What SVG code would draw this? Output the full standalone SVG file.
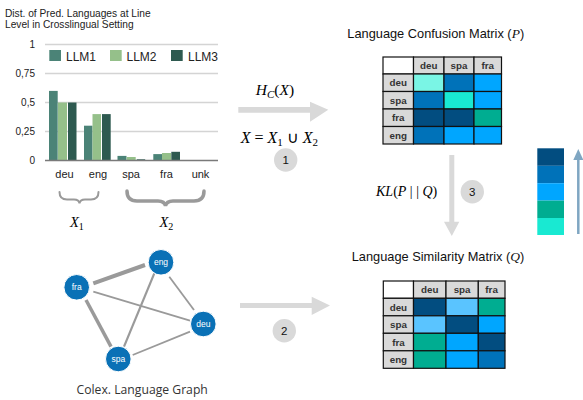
<svg xmlns="http://www.w3.org/2000/svg" width="583" height="400" viewBox="0 0 583 400">
<defs>
<style>
.sans{font-family:"Liberation Sans",Arial,sans-serif}
.math{font-family:"Liberation Serif","Times New Roman",serif;font-style:italic}
.up{font-style:normal}
.grid{stroke:#d4d4d4;stroke-width:1.5}
.l1{fill:#4b8377}.l2{fill:#95c08a}.l3{fill:#2e5a50}
.ax{font-size:10px;fill:#222;text-anchor:end}
.xl{font-size:11px;fill:#222;text-anchor:middle}
.brace{fill:none;stroke:#9a9a9a;stroke-linecap:round}
.edge{stroke:#9a9a9a;stroke-linecap:butt}
.node circle{fill:#0a71b6;stroke:#fff;stroke-width:1}
.node text{fill:#fff;font-size:8.5px;text-anchor:middle;font-family:"Liberation Sans",Arial,sans-serif}
.garrow{fill:#d9d9d9}
.step circle{fill:#d9d9d9}
.step text{font-size:11.5px;text-anchor:middle;fill:#111;font-family:"Liberation Sans",Arial,sans-serif}
.cell{stroke:#111;stroke-width:1.2}
.hd{fill:#d9d9d9}
.mt{font-size:9.8px;font-weight:bold;fill:#333;text-anchor:middle;font-family:"Liberation Sans",Arial,sans-serif}
.c1{fill:#7af5e5}.c2{fill:#0072b9}.c3{fill:#00a6ff}.c4{fill:#19e9d2}.c5{fill:#024d80}.c6{fill:#00ad91}.c7{fill:#5ac4ff}
</style>
</defs>
<rect width="583" height="400" fill="#fff"/>

<!-- Bar chart -->
<g id="chart">
<text class="sans" x="5" y="17" font-size="10.2" fill="#222">Dist. of Pred. Languages at Line</text>
<text class="sans" x="5" y="28" font-size="10.2" fill="#222">Level in Crosslingual Setting</text>
<line class="grid" x1="45" y1="44.5" x2="218" y2="44.5"/>
<line class="grid" x1="45" y1="73.5" x2="218" y2="73.5"/>
<line class="grid" x1="45" y1="102.5" x2="218" y2="102.5"/>
<line class="grid" x1="45" y1="131.5" x2="218" y2="131.5"/>
<text class="sans ax" x="35" y="48">1</text>
<text class="sans ax" x="35" y="77">0,75</text>
<text class="sans ax" x="35" y="106">0,5</text>
<text class="sans ax" x="35" y="135">0,25</text>
<text class="sans ax" x="35" y="164">0</text>
<rect class="l1" x="49.3" y="50" width="11.7" height="11"/>
<text class="sans" x="66" y="60.5" font-size="12" fill="#222">LLM1</text>
<rect class="l2" x="110" y="50" width="11.7" height="11"/>
<text class="sans" x="126.5" y="60.5" font-size="12" fill="#222">LLM2</text>
<rect class="l3" x="171" y="50" width="11.7" height="11"/>
<text class="sans" x="188" y="60.5" font-size="12" fill="#222">LLM3</text>
<rect class="l1" x="49" y="90.9" width="8.7" height="69.6"/>
<rect class="l2" x="58" y="102.5" width="9" height="58"/>
<rect class="l3" x="68" y="102.5" width="8.5" height="58"/>
<rect class="l1" x="84" y="125.7" width="8.5" height="34.8"/>
<rect class="l2" x="92.5" y="114.1" width="8.5" height="46.4"/>
<rect class="l3" x="102" y="114.1" width="8.7" height="46.4"/>
<rect class="l1" x="117.5" y="155.9" width="9" height="4.6"/>
<rect class="l2" x="126.7" y="157" width="9" height="3.5"/>
<rect class="l3" x="136.7" y="159.3" width="8.5" height="1.2"/>
<rect class="l1" x="153.3" y="154.1" width="8.7" height="6.4"/>
<rect class="l2" x="162" y="153" width="9" height="7.5"/>
<rect class="l3" x="171.3" y="151.8" width="8.7" height="8.7"/>
<line x1="45" y1="160.5" x2="218" y2="160.5" stroke="#7a7a7a" stroke-width="1.5"/>
<text class="sans xl" x="64.5" y="178">deu</text>
<text class="sans xl" x="98" y="178">eng</text>
<text class="sans xl" x="131" y="178">spa</text>
<text class="sans xl" x="166.5" y="178">fra</text>
<text class="sans xl" x="200.5" y="178">unk</text>
<path class="brace" stroke-width="2" d="M59.5,192 Q59.5,199.5 67,199.5 L74,199.5 Q79,199.5 79.5,203.5 Q80,199.5 85,199.5 L91,199.5 Q98.5,199.5 98.5,192"/>
<path class="brace" stroke-width="3.5" d="M127,191 Q127,201 137,201 L158,201 Q164.5,201 165.5,206 Q166.5,201 173,201 L194,201 Q204,201 204,191"/>
<text class="math" x="70" y="226.5" font-size="14.5">X<tspan class="up" font-size="10" dy="3">1</tspan></text>
<text class="math" x="159.5" y="226.5" font-size="14.5">X<tspan class="up" font-size="10" dy="3">2</tspan></text>
</g>

<!-- Graph connectors -->
<g id="connectors">
<line class="edge" x1="93.3" y1="283.3" x2="145" y2="265" stroke-width="4"/>
<line class="edge" x1="86" y1="300" x2="111" y2="346.7" stroke-width="3.5"/>
<line class="edge" x1="93.3" y1="291.7" x2="190" y2="320.7" stroke-width="1.8"/>
<line class="edge" x1="154.3" y1="273.3" x2="124" y2="346.7" stroke-width="2.2"/>
<line class="edge" x1="169.3" y1="276.7" x2="194" y2="310" stroke-width="1.8"/>
<line class="edge" x1="132.7" y1="355" x2="190" y2="331.7" stroke-width="1.8"/>
</g>
<g id="node-eng" class="node"><circle cx="161" cy="262.3" r="12.8"/><text x="161" y="265.2">eng</text></g>
<g id="node-fra" class="node"><circle cx="76.7" cy="287.3" r="12.8"/><text x="76.7" y="290.2">fra</text></g>
<g id="node-deu" class="node"><circle cx="203.3" cy="324" r="12.8"/><text x="203.3" y="327">deu</text></g>
<g id="node-spa" class="node"><circle cx="118.3" cy="359" r="12.8"/><text x="118.3" y="362">spa</text></g>
<text x="76.5" y="394" font-family="'Open Sans','Liberation Sans',sans-serif" font-size="12.2" fill="#333">Colex. Language Graph</text>

<!-- Step arrows -->
<g id="arrow1">
<path class="garrow" d="M238.3,107 L310,107 L310,101.7 L328.3,109.8 L310,121.7 L310,112.7 L238.3,112.7 Z"/>
<text class="math" x="255.7" y="95" font-size="15.5">H<tspan font-size="11" dy="3">C</tspan><tspan class="up" dy="-3">(</tspan>X<tspan class="up">)</tspan></text>
<text class="math" x="240.7" y="143.3" font-size="16">X<tspan class="up"> = </tspan>X<tspan class="up" font-size="11" dy="3">1</tspan><tspan class="up" dy="-3"> ∪ </tspan>X<tspan class="up" font-size="11" dy="3">2</tspan></text>
</g>
<g id="step1" class="step"><circle cx="285.7" cy="160" r="11.7"/><text x="285.7" y="164.2">1</text></g>

<g id="arrow2">
<path class="garrow" d="M240,303 L311.7,303 L311.7,296.7 L330,305.5 L311.7,315 L311.7,308 L240,308 Z"/>
</g>
<g id="step2" class="step"><circle cx="284.3" cy="330.7" r="11.7"/><text x="284.3" y="334.9">2</text></g>

<g id="arrow3">
<path class="garrow" d="M449.3,155 L454.3,155 L454.3,221.7 L459.3,221.7 L451.8,236 L444,221.7 L449.3,221.7 Z"/>
<text class="math" x="376" y="196" font-size="14">KL<tspan class="up">(</tspan>P<tspan class="up"> | | </tspan>Q<tspan class="up">)</tspan></text>
</g>
<g id="step3" class="step"><circle cx="472.3" cy="191.7" r="11.7"/><text x="472.3" y="195.9">3</text></g>

<!-- Colour scale -->
<g id="scale">
<rect class="c5" x="537.3" y="148.3" width="26.7" height="17.5"/>
<rect class="c2" x="537.3" y="165.8" width="26.7" height="17.4"/>
<rect class="c3" x="537.3" y="183.2" width="26.7" height="17.4"/>
<rect class="c6" x="537.3" y="200.6" width="26.7" height="17.4"/>
<rect class="c4" x="537.3" y="218" width="26.7" height="17"/>
<line x1="578.3" y1="158" x2="578.3" y2="234" stroke="#7fa6c2" stroke-width="2.5"/>
<path d="M573.3,160 L578.3,149 L583.3,160 Z" fill="#7fa6c2"/>
</g>

<!-- Matrix P -->
<g id="matrixP">
<text class="sans" x="347.3" y="38.3" font-size="12.8" fill="#111">Language Confusion Matrix (<tspan class="math" font-size="13.5">P</tspan>)</text>
<rect class="cell" x="383" y="57" width="30.5" height="17" fill="#fff"/>
<rect class="cell hd" x="413.5" y="57" width="30.5" height="17"/>
<rect class="cell hd" x="444" y="57" width="30" height="17"/>
<rect class="cell hd" x="474" y="57" width="27.5" height="17"/>
<rect class="cell hd" x="383" y="74" width="30.5" height="17.5"/>
<rect class="cell hd" x="383" y="91.5" width="30.5" height="17.5"/>
<rect class="cell hd" x="383" y="109" width="30.5" height="17.5"/>
<rect class="cell hd" x="383" y="126.5" width="30.5" height="17.5"/>
<rect class="cell c1" x="413.5" y="74" width="30.5" height="17.5"/>
<rect class="cell c2" x="444" y="74" width="30" height="17.5"/>
<rect class="cell c3" x="474" y="74" width="27.5" height="17.5"/>
<rect class="cell c2" x="413.5" y="91.5" width="30.5" height="17.5"/>
<rect class="cell c4" x="444" y="91.5" width="30" height="17.5"/>
<rect class="cell c3" x="474" y="91.5" width="27.5" height="17.5"/>
<rect class="cell c5" x="413.5" y="109" width="30.5" height="17.5"/>
<rect class="cell c5" x="444" y="109" width="30" height="17.5"/>
<rect class="cell c6" x="474" y="109" width="27.5" height="17.5"/>
<rect class="cell c2" x="413.5" y="126.5" width="30.5" height="17.5"/>
<rect class="cell c3" x="444" y="126.5" width="30" height="17.5"/>
<rect class="cell c3" x="474" y="126.5" width="27.5" height="17.5"/>
<text class="mt" x="428.7" y="69.3">deu</text>
<text class="mt" x="459" y="69.3">spa</text>
<text class="mt" x="487.7" y="68.8">fra</text>
<text class="mt" x="398.2" y="86.3">deu</text>
<text class="mt" x="398.2" y="103.8">spa</text>
<text class="mt" x="398.2" y="121.3">fra</text>
<text class="mt" x="398.2" y="138.8">eng</text>
</g>

<!-- Matrix Q -->
<g id="matrixQ">
<text class="sans" x="351.7" y="260.7" font-size="12.8" fill="#111">Language Similarity Matrix (<tspan class="math" font-size="13.5">Q</tspan>)</text>
<rect class="cell" x="383.3" y="281" width="30.2" height="17.3" fill="#fff"/>
<rect class="cell hd" x="413.5" y="281" width="32.5" height="17.3"/>
<rect class="cell hd" x="446" y="281" width="32.3" height="17.3"/>
<rect class="cell hd" x="478.3" y="281" width="26.7" height="17.3"/>
<rect class="cell hd" x="383.3" y="298.3" width="30.2" height="17.5"/>
<rect class="cell hd" x="383.3" y="315.8" width="30.2" height="17.5"/>
<rect class="cell hd" x="383.3" y="333.3" width="30.2" height="17.5"/>
<rect class="cell hd" x="383.3" y="350.8" width="30.2" height="17.5"/>
<rect class="cell c5" x="413.5" y="298.3" width="32.5" height="17.5"/>
<rect class="cell c7" x="446" y="298.3" width="32.3" height="17.5"/>
<rect class="cell c6" x="478.3" y="298.3" width="26.7" height="17.5"/>
<rect class="cell c7" x="413.5" y="315.8" width="32.5" height="17.5"/>
<rect class="cell c5" x="446" y="315.8" width="32.3" height="17.5"/>
<rect class="cell c3" x="478.3" y="315.8" width="26.7" height="17.5"/>
<rect class="cell c6" x="413.5" y="333.3" width="32.5" height="17.5"/>
<rect class="cell c3" x="446" y="333.3" width="32.3" height="17.5"/>
<rect class="cell c5" x="478.3" y="333.3" width="26.7" height="17.5"/>
<rect class="cell c6" x="413.5" y="350.8" width="32.5" height="17.5"/>
<rect class="cell c3" x="446" y="350.8" width="32.3" height="17.5"/>
<rect class="cell c2" x="478.3" y="350.8" width="26.7" height="17.5"/>
<text class="mt" x="429.7" y="293.3">deu</text>
<text class="mt" x="462.1" y="293.3">spa</text>
<text class="mt" x="491.6" y="292.8">fra</text>
<text class="mt" x="398.4" y="310.6">deu</text>
<text class="mt" x="398.4" y="328.1">spa</text>
<text class="mt" x="398.4" y="345.6">fra</text>
<text class="mt" x="398.4" y="363.1">eng</text>
</g>
</svg>
